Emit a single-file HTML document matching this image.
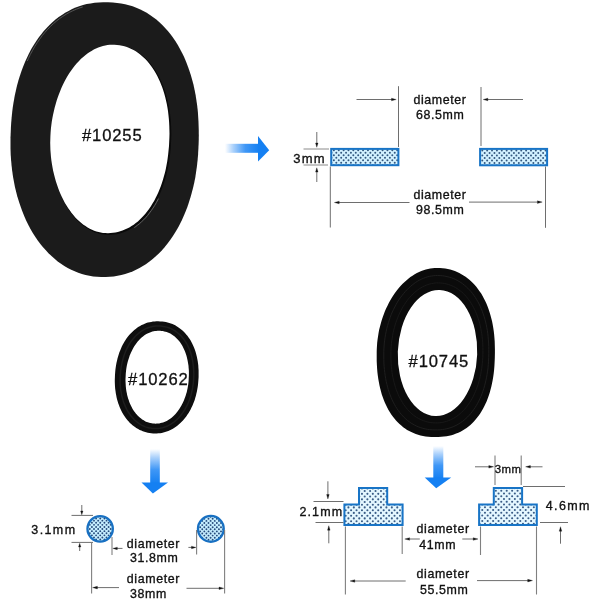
<!DOCTYPE html>
<html>
<head>
<meta charset="utf-8">
<title>Seal dimensions</title>
<style>
html,body{margin:0;padding:0;background:#fff;}
body{width:600px;height:600px;overflow:hidden;font-family:"Liberation Sans",sans-serif;}
svg{display:block;filter:blur(0.35px);}
text{font-family:"Liberation Sans",sans-serif;fill:#111;stroke:#111;stroke-width:0.33px;}
.t{font-size:12.4px;letter-spacing:0.62px;}
.ts{font-size:12.5px;letter-spacing:1.1px;}
.big{font-size:16.6px;letter-spacing:0.85px;stroke-width:0.3px;}
.ln{stroke:#6e6e6e;stroke-width:1;fill:none;}
.lg{stroke:#8a8a8a;stroke-width:1;fill:none;}
.lv{stroke:#808080;stroke-width:1.1;fill:none;}
.ah{fill:#111;stroke:#111;stroke-width:0.3;}
</style>
</head>
<body>
<svg width="600" height="600" viewBox="0 0 600 600">
<defs>
  <linearGradient id="gr" x1="0" y1="0" x2="1" y2="0">
    <stop offset="0" stop-color="#ffffff"/>
    <stop offset="0.25" stop-color="#a9d0fb"/>
    <stop offset="0.6" stop-color="#3f97f6"/>
    <stop offset="1" stop-color="#1580f2"/>
  </linearGradient>
  <linearGradient id="gd" x1="0" y1="0" x2="0" y2="1">
    <stop offset="0" stop-color="#ffffff"/>
    <stop offset="0.25" stop-color="#a9d0fb"/>
    <stop offset="0.6" stop-color="#3f97f6"/>
    <stop offset="1" stop-color="#1580f2"/>
  </linearGradient>
<clipPath id="cr1"><rect x="331.2" y="148.9" width="67.2" height="16.3" /></clipPath>
<clipPath id="cr2"><rect x="480.1" y="148.9" width="67" height="16.4" /></clipPath>
<clipPath id="cc1"><circle cx="100.15" cy="528.85" r="12.7" /></clipPath>
<clipPath id="cc2"><circle cx="210.85" cy="528.85" r="12.9" /></clipPath>
<clipPath id="ct1"><path d="M344.4,504.5 H359 V488 H387.2 V504.5 H402.6 V525.1 H344.4 Z" /></clipPath>
<clipPath id="ct2"><path d="M479.1,504.5 H493.8 V487.9 H522.1 V504.5 H536.8 V525.1 H479.1 Z" /></clipPath>
</defs>

<!-- ============ Ring #10255 ============ -->
<g id="ring1">
  <path fill="#1b1b1b" d="M198.7,141.9 L198.4,148.4 L198.1,154.3 L197.6,160.1 L197.0,165.7 L196.2,171.3 L195.4,176.7 L194.4,182.0 L193.2,187.2 L191.9,192.2 L190.5,197.2 L189.0,202.1 L187.4,206.9 L185.6,211.5 L183.7,216.0 L181.7,220.4 L179.6,224.7 L177.4,228.8 L175.0,232.8 L172.6,236.6 L170.0,240.3 L167.4,243.8 L164.6,247.2 L161.8,250.4 L158.8,253.5 L155.8,256.3 L152.7,259.0 L149.5,261.5 L146.2,263.9 L142.9,266.0 L139.5,268.0 L136.0,269.8 L132.5,271.4 L128.9,272.8 L125.2,274.0 L121.4,275.0 L117.6,275.8 L113.7,276.4 L109.8,276.8 L105.7,277.0 L101.2,277.0 L97.1,276.8 L93.2,276.4 L89.4,275.7 L85.6,274.9 L81.9,273.9 L78.3,272.7 L74.7,271.3 L71.2,269.7 L67.7,267.9 L64.3,265.9 L61.0,263.8 L57.7,261.4 L54.6,258.8 L51.5,256.1 L48.5,253.2 L45.6,250.1 L42.8,246.9 L40.0,243.5 L37.4,239.9 L34.9,236.2 L32.5,232.4 L30.2,228.4 L28.0,224.2 L25.9,219.9 L24.0,215.5 L22.2,211.0 L20.5,206.3 L18.9,201.6 L17.4,196.7 L16.1,191.8 L14.9,186.7 L13.9,181.6 L13.0,176.4 L12.2,171.0 L11.6,165.7 L11.1,160.2 L10.7,154.7 L10.5,149.1 L10.5,143.3 L10.5,137.3 L10.8,130.2 L11.1,123.9 L11.6,117.9 L12.2,112.1 L12.9,106.5 L13.8,101.0 L14.8,95.6 L15.9,90.4 L17.1,85.3 L18.5,80.3 L20.0,75.5 L21.6,70.7 L23.3,66.2 L25.1,61.7 L27.1,57.4 L29.1,53.2 L31.3,49.1 L33.6,45.2 L36.0,41.4 L38.5,37.8 L41.1,34.4 L43.8,31.1 L46.6,28.0 L49.5,25.0 L52.4,22.2 L55.5,19.6 L58.7,17.1 L61.9,14.9 L65.2,12.8 L68.6,10.9 L72.1,9.1 L75.6,7.6 L79.2,6.3 L83.0,5.1 L86.7,4.1 L90.6,3.4 L94.6,2.8 L98.7,2.4 L103.1,2.2 L108.0,2.2 L112.8,2.5 L117.1,2.9 L121.1,3.4 L125.1,4.2 L128.9,5.2 L132.6,6.3 L136.3,7.7 L139.8,9.2 L143.3,10.9 L146.7,12.8 L150.0,14.9 L153.2,17.2 L156.3,19.6 L159.4,22.2 L162.3,25.0 L165.1,27.9 L167.9,31.0 L170.5,34.3 L173.1,37.7 L175.5,41.3 L177.8,45.1 L180.0,48.9 L182.1,53.0 L184.1,57.1 L186.0,61.4 L187.7,65.9 L189.3,70.4 L190.8,75.1 L192.2,79.9 L193.5,84.8 L194.6,89.9 L195.6,95.0 L196.4,100.3 L197.2,105.7 L197.8,111.2 L198.2,116.8 L198.5,122.6 L198.7,128.6 L198.8,134.9 Z"/>
  <path fill="#0a0a0a" d="M171.0,142.8 L170.8,147.2 L170.4,151.2 L170.0,155.2 L169.5,159.0 L168.9,162.8 L168.3,166.5 L167.5,170.1 L166.7,173.7 L165.8,177.2 L164.8,180.6 L163.7,184.0 L162.6,187.3 L161.3,190.5 L160.0,193.6 L158.7,196.6 L157.2,199.5 L155.7,202.3 L154.1,205.1 L152.5,207.7 L150.8,210.2 L149.0,212.6 L147.2,215.0 L145.3,217.1 L143.3,219.2 L141.3,221.2 L139.3,223.0 L137.2,224.7 L135.0,226.3 L132.8,227.8 L130.6,229.1 L128.4,230.3 L126.1,231.3 L123.7,232.2 L121.3,233.0 L118.9,233.7 L116.5,234.2 L114.0,234.5 L111.5,234.8 L108.9,234.9 L106.2,234.8 L104.0,234.6 L101.7,234.3 L99.5,233.8 L97.2,233.1 L95.0,232.4 L92.7,231.4 L90.5,230.4 L88.3,229.1 L86.2,227.8 L84.0,226.3 L81.9,224.7 L79.9,222.9 L77.9,221.0 L75.9,219.0 L74.0,216.8 L72.1,214.5 L70.3,212.2 L68.6,209.7 L66.9,207.0 L65.3,204.3 L63.8,201.5 L62.3,198.6 L61.0,195.6 L59.6,192.5 L58.4,189.4 L57.3,186.2 L56.2,182.9 L55.2,179.5 L54.3,176.1 L53.5,172.6 L52.8,169.1 L52.2,165.6 L51.7,162.0 L51.2,158.4 L50.9,154.8 L50.6,151.1 L50.5,147.5 L50.4,143.9 L50.5,140.4 L50.6,137.0 L50.8,133.4 L51.1,129.7 L51.5,126.1 L52.0,122.4 L52.6,118.8 L53.3,115.2 L54.1,111.6 L55.0,108.1 L55.9,104.6 L57.0,101.2 L58.1,97.9 L59.3,94.5 L60.6,91.3 L61.9,88.1 L63.4,85.1 L64.9,82.0 L66.5,79.1 L68.1,76.3 L69.8,73.6 L71.6,71.0 L73.5,68.4 L75.4,66.0 L77.3,63.8 L79.3,61.6 L81.4,59.5 L83.5,57.6 L85.6,55.8 L87.8,54.1 L90.0,52.6 L92.3,51.2 L94.5,49.9 L96.8,48.8 L99.1,47.8 L101.5,47.0 L103.8,46.3 L106.1,45.7 L108.5,45.3 L110.8,45.1 L113.1,45.0 L115.4,45.0 L118.2,45.2 L120.8,45.6 L123.2,46.0 L125.7,46.6 L128.1,47.4 L130.4,48.2 L132.7,49.3 L134.9,50.4 L137.1,51.7 L139.2,53.1 L141.3,54.6 L143.3,56.3 L145.3,58.1 L147.2,60.0 L149.1,62.0 L150.9,64.1 L152.6,66.4 L154.3,68.8 L155.9,71.2 L157.4,73.8 L158.9,76.5 L160.3,79.3 L161.6,82.1 L162.8,85.1 L164.0,88.2 L165.0,91.3 L166.0,94.5 L166.9,97.8 L167.8,101.2 L168.5,104.6 L169.2,108.1 L169.7,111.7 L170.2,115.3 L170.6,119.0 L170.9,122.8 L171.1,126.6 L171.2,130.5 L171.3,134.4 L171.2,138.5 Z"/>
  <path fill="none" stroke="#5a5a5a" stroke-width="0.9" stroke-dasharray="0 445 80 2000" d="M198.0,142.3 L197.7,148.7 L197.4,154.6 L196.9,160.3 L196.3,165.9 L195.6,171.4 L194.7,176.7 L193.7,182.0 L192.6,187.1 L191.3,192.2 L189.9,197.1 L188.4,202.0 L186.8,206.7 L185.1,211.3 L183.2,215.8 L181.2,220.1 L179.1,224.3 L176.9,228.4 L174.6,232.4 L172.2,236.2 L169.6,239.8 L167.0,243.3 L164.3,246.7 L161.5,249.8 L158.6,252.9 L155.6,255.7 L152.5,258.4 L149.4,260.9 L146.2,263.2 L142.9,265.3 L139.5,267.3 L136.0,269.0 L132.5,270.6 L129.0,272.0 L125.3,273.2 L121.6,274.2 L117.9,275.0 L114.0,275.6 L110.1,276.0 L106.1,276.2 L101.7,276.2 L97.6,276.0 L93.7,275.6 L89.9,275.0 L86.2,274.2 L82.6,273.2 L79.0,272.0 L75.4,270.6 L71.9,269.0 L68.5,267.2 L65.2,265.2 L61.9,263.1 L58.7,260.7 L55.5,258.2 L52.5,255.5 L49.5,252.6 L46.6,249.6 L43.9,246.4 L41.2,243.0 L38.6,239.5 L36.1,235.8 L33.7,232.0 L31.5,228.0 L29.3,223.9 L27.3,219.6 L25.3,215.3 L23.5,210.8 L21.8,206.2 L20.3,201.5 L18.9,196.6 L17.6,191.7 L16.4,186.7 L15.4,181.6 L14.5,176.4 L13.7,171.2 L13.1,165.8 L12.6,160.4 L12.2,154.9 L12.0,149.4 L12.0,143.7 L12.0,137.7 L12.3,130.7 L12.6,124.4 L13.1,118.5 L13.7,112.7 L14.4,107.2 L15.3,101.7 L16.2,96.4 L17.3,91.2 L18.6,86.2 L19.9,81.3 L21.4,76.4 L22.9,71.8 L24.6,67.2 L26.5,62.8 L28.4,58.5 L30.4,54.3 L32.6,50.3 L34.8,46.4 L37.2,42.7 L39.7,39.1 L42.2,35.7 L44.9,32.4 L47.7,29.3 L50.5,26.4 L53.5,23.6 L56.5,21.0 L59.6,18.6 L62.8,16.4 L66.1,14.3 L69.4,12.4 L72.9,10.7 L76.4,9.2 L80.0,7.8 L83.6,6.7 L87.4,5.7 L91.2,5.0 L95.1,4.4 L99.2,4.0 L103.5,3.8 L108.3,3.8 L113.1,4.1 L117.3,4.4 L121.3,5.0 L125.2,5.8 L129.0,6.8 L132.7,7.9 L136.3,9.2 L139.8,10.7 L143.3,12.4 L146.6,14.3 L149.9,16.4 L153.0,18.6 L156.1,21.0 L159.1,23.6 L162.0,26.4 L164.8,29.3 L167.5,32.4 L170.2,35.6 L172.7,39.0 L175.1,42.6 L177.4,46.3 L179.6,50.1 L181.6,54.1 L183.6,58.2 L185.4,62.5 L187.2,66.9 L188.8,71.4 L190.2,76.1 L191.6,80.8 L192.8,85.7 L193.9,90.7 L194.9,95.8 L195.8,101.0 L196.5,106.4 L197.1,111.8 L197.5,117.4 L197.8,123.2 L198.0,129.1 L198.1,135.3 Z"/>
  <path fill="none" stroke="#6a6a6a" stroke-width="0.9" stroke-dasharray="0 58 38 2000" d="M171.8,142.6 L171.6,147.0 L171.2,151.1 L170.8,155.1 L170.3,158.9 L169.7,162.8 L169.0,166.5 L168.3,170.2 L167.4,173.8 L166.5,177.3 L165.5,180.8 L164.4,184.2 L163.2,187.5 L162.0,190.7 L160.7,193.8 L159.3,196.9 L157.8,199.9 L156.3,202.7 L154.7,205.5 L153.0,208.1 L151.2,210.7 L149.4,213.1 L147.6,215.5 L145.7,217.7 L143.7,219.8 L141.6,221.7 L139.6,223.6 L137.4,225.3 L135.3,226.9 L133.0,228.4 L130.8,229.7 L128.5,230.9 L126.1,232.0 L123.8,232.9 L121.4,233.7 L118.9,234.4 L116.4,234.9 L113.9,235.2 L111.3,235.5 L108.7,235.6 L105.9,235.5 L103.7,235.3 L101.4,235.0 L99.1,234.5 L96.8,233.8 L94.5,233.0 L92.3,232.1 L90.0,231.0 L87.8,229.8 L85.6,228.4 L83.4,226.9 L81.3,225.2 L79.2,223.4 L77.2,221.5 L75.2,219.5 L73.2,217.3 L71.3,215.0 L69.5,212.6 L67.7,210.1 L66.0,207.4 L64.4,204.7 L62.8,201.9 L61.4,198.9 L59.9,195.9 L58.6,192.8 L57.4,189.6 L56.2,186.3 L55.1,183.0 L54.1,179.6 L53.2,176.1 L52.4,172.6 L51.7,169.1 L51.0,165.5 L50.5,161.9 L50.1,158.3 L49.7,154.6 L49.4,150.9 L49.3,147.3 L49.2,143.7 L49.3,140.1 L49.4,136.6 L49.6,133.0 L49.9,129.3 L50.3,125.6 L50.9,121.9 L51.5,118.3 L52.2,114.6 L53.0,111.0 L53.8,107.5 L54.8,104.0 L55.9,100.5 L57.0,97.1 L58.2,93.7 L59.5,90.5 L60.9,87.3 L62.4,84.2 L63.9,81.1 L65.5,78.2 L67.2,75.3 L69.0,72.6 L70.8,69.9 L72.6,67.4 L74.6,65.0 L76.6,62.6 L78.6,60.4 L80.7,58.4 L82.8,56.4 L85.0,54.6 L87.2,52.9 L89.4,51.4 L91.7,49.9 L94.0,48.7 L96.4,47.5 L98.7,46.5 L101.1,45.7 L103.4,45.0 L105.8,44.4 L108.2,44.0 L110.6,43.8 L113.0,43.7 L115.3,43.7 L118.1,43.9 L120.7,44.3 L123.2,44.7 L125.7,45.4 L128.1,46.1 L130.5,47.0 L132.8,48.0 L135.1,49.2 L137.3,50.5 L139.5,51.9 L141.6,53.4 L143.7,55.1 L145.7,56.9 L147.6,58.8 L149.5,60.9 L151.3,63.0 L153.1,65.3 L154.8,67.7 L156.4,70.2 L158.0,72.8 L159.5,75.5 L160.9,78.3 L162.2,81.2 L163.5,84.2 L164.6,87.3 L165.7,90.5 L166.7,93.8 L167.7,97.1 L168.5,100.5 L169.3,104.0 L169.9,107.5 L170.5,111.1 L171.0,114.8 L171.4,118.5 L171.7,122.3 L171.9,126.2 L172.0,130.1 L172.1,134.1 L172.0,138.2 Z"/>
  <path fill="#ffffff" d="M169.2,141.8 L169.0,146.1 L168.6,150.1 L168.2,154.0 L167.7,157.9 L167.2,161.6 L166.5,165.3 L165.8,168.9 L165.0,172.5 L164.0,175.9 L163.1,179.3 L162.0,182.7 L160.9,185.9 L159.7,189.1 L158.4,192.2 L157.0,195.2 L155.6,198.1 L154.1,200.9 L152.5,203.6 L150.9,206.2 L149.2,208.7 L147.5,211.1 L145.6,213.4 L143.8,215.6 L141.9,217.6 L139.9,219.6 L137.9,221.4 L135.8,223.1 L133.7,224.7 L131.5,226.1 L129.3,227.4 L127.1,228.6 L124.8,229.6 L122.5,230.6 L120.2,231.3 L117.8,232.0 L115.4,232.5 L113.0,232.8 L110.5,233.1 L107.9,233.2 L105.2,233.1 L103.0,232.9 L100.8,232.6 L98.6,232.1 L96.4,231.5 L94.2,230.7 L92.0,229.8 L89.8,228.7 L87.6,227.5 L85.5,226.1 L83.4,224.7 L81.3,223.0 L79.3,221.3 L77.3,219.4 L75.3,217.4 L73.5,215.3 L71.6,213.0 L69.9,210.6 L68.2,208.2 L66.5,205.6 L64.9,202.9 L63.4,200.1 L62.0,197.2 L60.6,194.2 L59.3,191.2 L58.1,188.0 L57.0,184.8 L55.9,181.6 L55.0,178.2 L54.1,174.8 L53.3,171.4 L52.6,167.9 L52.0,164.4 L51.4,160.8 L51.0,157.3 L50.7,153.7 L50.4,150.1 L50.3,146.5 L50.2,142.9 L50.3,139.4 L50.4,136.0 L50.6,132.4 L50.9,128.8 L51.3,125.2 L51.8,121.6 L52.4,118.0 L53.1,114.4 L53.9,110.9 L54.7,107.4 L55.7,103.9 L56.7,100.5 L57.8,97.2 L59.0,93.9 L60.3,90.7 L61.6,87.5 L63.0,84.5 L64.5,81.5 L66.1,78.6 L67.7,75.8 L69.4,73.1 L71.2,70.5 L73.0,68.0 L74.9,65.6 L76.8,63.3 L78.8,61.2 L80.8,59.1 L82.9,57.2 L85.0,55.4 L87.1,53.8 L89.3,52.2 L91.5,50.9 L93.8,49.6 L96.0,48.5 L98.3,47.5 L100.6,46.7 L102.9,46.0 L105.2,45.4 L107.5,45.0 L109.8,44.8 L112.1,44.7 L114.4,44.7 L117.1,44.9 L119.7,45.2 L122.1,45.7 L124.5,46.3 L126.9,47.0 L129.2,47.9 L131.4,48.9 L133.6,50.1 L135.8,51.3 L137.9,52.7 L139.9,54.2 L141.9,55.9 L143.9,57.7 L145.8,59.5 L147.6,61.6 L149.4,63.7 L151.1,65.9 L152.7,68.3 L154.3,70.7 L155.8,73.3 L157.3,75.9 L158.6,78.7 L159.9,81.6 L161.1,84.5 L162.3,87.5 L163.3,90.6 L164.3,93.8 L165.2,97.1 L166.0,100.4 L166.8,103.9 L167.4,107.3 L168.0,110.9 L168.4,114.5 L168.8,118.2 L169.1,121.9 L169.3,125.7 L169.4,129.5 L169.5,133.5 L169.4,137.5 Z"/>
  <text class="big" x="82" y="140.6">#10255</text>
</g>

<!-- right arrow -->
<g id="arrowR">
  <rect x="225" y="143.8" width="34" height="9" fill="url(#gr)"/>
  <path d="M258,136 L269.2,150.3 L258,161.4 Z" fill="#1580f2"/>
</g>

<!-- ============ Diagram 1 ============ -->
<g id="d1">
<g><rect x="331.2" y="148.9" width="67.2" height="16.3" fill="#d2f1ff" stroke="none"/>
<g clip-path="url(#cr1)" fill="#34587f"><circle cx="331.43" cy="152.70" r="1.0"/><circle cx="331.43" cy="157.75" r="1.0"/><circle cx="331.43" cy="162.80" r="1.0"/><circle cx="336.30" cy="152.70" r="1.0"/><circle cx="336.30" cy="157.75" r="1.0"/><circle cx="336.30" cy="162.80" r="1.0"/><circle cx="341.17" cy="152.70" r="1.0"/><circle cx="341.17" cy="157.75" r="1.0"/><circle cx="341.17" cy="162.80" r="1.0"/><circle cx="346.04" cy="152.70" r="1.0"/><circle cx="346.04" cy="157.75" r="1.0"/><circle cx="346.04" cy="162.80" r="1.0"/><circle cx="350.91" cy="152.70" r="1.0"/><circle cx="350.91" cy="157.75" r="1.0"/><circle cx="350.91" cy="162.80" r="1.0"/><circle cx="355.78" cy="152.70" r="1.0"/><circle cx="355.78" cy="157.75" r="1.0"/><circle cx="355.78" cy="162.80" r="1.0"/><circle cx="360.65" cy="152.70" r="1.0"/><circle cx="360.65" cy="157.75" r="1.0"/><circle cx="360.65" cy="162.80" r="1.0"/><circle cx="365.52" cy="152.70" r="1.0"/><circle cx="365.52" cy="157.75" r="1.0"/><circle cx="365.52" cy="162.80" r="1.0"/><circle cx="370.39" cy="152.70" r="1.0"/><circle cx="370.39" cy="157.75" r="1.0"/><circle cx="370.39" cy="162.80" r="1.0"/><circle cx="375.26" cy="152.70" r="1.0"/><circle cx="375.26" cy="157.75" r="1.0"/><circle cx="375.26" cy="162.80" r="1.0"/><circle cx="380.13" cy="152.70" r="1.0"/><circle cx="380.13" cy="157.75" r="1.0"/><circle cx="380.13" cy="162.80" r="1.0"/><circle cx="385.00" cy="152.70" r="1.0"/><circle cx="385.00" cy="157.75" r="1.0"/><circle cx="385.00" cy="162.80" r="1.0"/><circle cx="389.87" cy="152.70" r="1.0"/><circle cx="389.87" cy="157.75" r="1.0"/><circle cx="389.87" cy="162.80" r="1.0"/><circle cx="394.74" cy="152.70" r="1.0"/><circle cx="394.74" cy="157.75" r="1.0"/><circle cx="394.74" cy="162.80" r="1.0"/><circle cx="333.86" cy="150.17" r="1.0"/><circle cx="333.86" cy="155.22" r="1.0"/><circle cx="333.86" cy="160.27" r="1.0"/><circle cx="333.86" cy="165.32" r="1.0"/><circle cx="338.73" cy="150.17" r="1.0"/><circle cx="338.73" cy="155.22" r="1.0"/><circle cx="338.73" cy="160.27" r="1.0"/><circle cx="338.73" cy="165.32" r="1.0"/><circle cx="343.60" cy="150.17" r="1.0"/><circle cx="343.60" cy="155.22" r="1.0"/><circle cx="343.60" cy="160.27" r="1.0"/><circle cx="343.60" cy="165.32" r="1.0"/><circle cx="348.47" cy="150.17" r="1.0"/><circle cx="348.47" cy="155.22" r="1.0"/><circle cx="348.47" cy="160.27" r="1.0"/><circle cx="348.47" cy="165.32" r="1.0"/><circle cx="353.34" cy="150.17" r="1.0"/><circle cx="353.34" cy="155.22" r="1.0"/><circle cx="353.34" cy="160.27" r="1.0"/><circle cx="353.34" cy="165.32" r="1.0"/><circle cx="358.21" cy="150.17" r="1.0"/><circle cx="358.21" cy="155.22" r="1.0"/><circle cx="358.21" cy="160.27" r="1.0"/><circle cx="358.21" cy="165.32" r="1.0"/><circle cx="363.08" cy="150.17" r="1.0"/><circle cx="363.08" cy="155.22" r="1.0"/><circle cx="363.08" cy="160.27" r="1.0"/><circle cx="363.08" cy="165.32" r="1.0"/><circle cx="367.95" cy="150.17" r="1.0"/><circle cx="367.95" cy="155.22" r="1.0"/><circle cx="367.95" cy="160.27" r="1.0"/><circle cx="367.95" cy="165.32" r="1.0"/><circle cx="372.82" cy="150.17" r="1.0"/><circle cx="372.82" cy="155.22" r="1.0"/><circle cx="372.82" cy="160.27" r="1.0"/><circle cx="372.82" cy="165.32" r="1.0"/><circle cx="377.69" cy="150.17" r="1.0"/><circle cx="377.69" cy="155.22" r="1.0"/><circle cx="377.69" cy="160.27" r="1.0"/><circle cx="377.69" cy="165.32" r="1.0"/><circle cx="382.56" cy="150.17" r="1.0"/><circle cx="382.56" cy="155.22" r="1.0"/><circle cx="382.56" cy="160.27" r="1.0"/><circle cx="382.56" cy="165.32" r="1.0"/><circle cx="387.43" cy="150.17" r="1.0"/><circle cx="387.43" cy="155.22" r="1.0"/><circle cx="387.43" cy="160.27" r="1.0"/><circle cx="387.43" cy="165.32" r="1.0"/><circle cx="392.30" cy="150.17" r="1.0"/><circle cx="392.30" cy="155.22" r="1.0"/><circle cx="392.30" cy="160.27" r="1.0"/><circle cx="392.30" cy="165.32" r="1.0"/><circle cx="397.17" cy="150.17" r="1.0"/><circle cx="397.17" cy="155.22" r="1.0"/><circle cx="397.17" cy="160.27" r="1.0"/><circle cx="397.17" cy="165.32" r="1.0"/></g>
<rect x="331.2" y="148.9" width="67.2" height="16.3" fill="none" stroke="#1874c6" stroke-width="2"/></g>
<g><rect x="480.1" y="148.9" width="67" height="16.4" fill="#d2f1ff" stroke="none"/>
<g clip-path="url(#cr2)" fill="#34587f"><circle cx="479.83" cy="147.95" r="1.0"/><circle cx="479.83" cy="153.00" r="1.0"/><circle cx="479.83" cy="158.05" r="1.0"/><circle cx="479.83" cy="163.10" r="1.0"/><circle cx="484.70" cy="147.95" r="1.0"/><circle cx="484.70" cy="153.00" r="1.0"/><circle cx="484.70" cy="158.05" r="1.0"/><circle cx="484.70" cy="163.10" r="1.0"/><circle cx="489.57" cy="147.95" r="1.0"/><circle cx="489.57" cy="153.00" r="1.0"/><circle cx="489.57" cy="158.05" r="1.0"/><circle cx="489.57" cy="163.10" r="1.0"/><circle cx="494.44" cy="147.95" r="1.0"/><circle cx="494.44" cy="153.00" r="1.0"/><circle cx="494.44" cy="158.05" r="1.0"/><circle cx="494.44" cy="163.10" r="1.0"/><circle cx="499.31" cy="147.95" r="1.0"/><circle cx="499.31" cy="153.00" r="1.0"/><circle cx="499.31" cy="158.05" r="1.0"/><circle cx="499.31" cy="163.10" r="1.0"/><circle cx="504.18" cy="147.95" r="1.0"/><circle cx="504.18" cy="153.00" r="1.0"/><circle cx="504.18" cy="158.05" r="1.0"/><circle cx="504.18" cy="163.10" r="1.0"/><circle cx="509.05" cy="147.95" r="1.0"/><circle cx="509.05" cy="153.00" r="1.0"/><circle cx="509.05" cy="158.05" r="1.0"/><circle cx="509.05" cy="163.10" r="1.0"/><circle cx="513.92" cy="147.95" r="1.0"/><circle cx="513.92" cy="153.00" r="1.0"/><circle cx="513.92" cy="158.05" r="1.0"/><circle cx="513.92" cy="163.10" r="1.0"/><circle cx="518.79" cy="147.95" r="1.0"/><circle cx="518.79" cy="153.00" r="1.0"/><circle cx="518.79" cy="158.05" r="1.0"/><circle cx="518.79" cy="163.10" r="1.0"/><circle cx="523.66" cy="147.95" r="1.0"/><circle cx="523.66" cy="153.00" r="1.0"/><circle cx="523.66" cy="158.05" r="1.0"/><circle cx="523.66" cy="163.10" r="1.0"/><circle cx="528.53" cy="147.95" r="1.0"/><circle cx="528.53" cy="153.00" r="1.0"/><circle cx="528.53" cy="158.05" r="1.0"/><circle cx="528.53" cy="163.10" r="1.0"/><circle cx="533.40" cy="147.95" r="1.0"/><circle cx="533.40" cy="153.00" r="1.0"/><circle cx="533.40" cy="158.05" r="1.0"/><circle cx="533.40" cy="163.10" r="1.0"/><circle cx="538.27" cy="147.95" r="1.0"/><circle cx="538.27" cy="153.00" r="1.0"/><circle cx="538.27" cy="158.05" r="1.0"/><circle cx="538.27" cy="163.10" r="1.0"/><circle cx="543.14" cy="147.95" r="1.0"/><circle cx="543.14" cy="153.00" r="1.0"/><circle cx="543.14" cy="158.05" r="1.0"/><circle cx="543.14" cy="163.10" r="1.0"/><circle cx="548.01" cy="147.95" r="1.0"/><circle cx="548.01" cy="153.00" r="1.0"/><circle cx="548.01" cy="158.05" r="1.0"/><circle cx="548.01" cy="163.10" r="1.0"/><circle cx="482.27" cy="150.47" r="1.0"/><circle cx="482.27" cy="155.52" r="1.0"/><circle cx="482.27" cy="160.57" r="1.0"/><circle cx="482.27" cy="165.62" r="1.0"/><circle cx="487.14" cy="150.47" r="1.0"/><circle cx="487.14" cy="155.52" r="1.0"/><circle cx="487.14" cy="160.57" r="1.0"/><circle cx="487.14" cy="165.62" r="1.0"/><circle cx="492.01" cy="150.47" r="1.0"/><circle cx="492.01" cy="155.52" r="1.0"/><circle cx="492.01" cy="160.57" r="1.0"/><circle cx="492.01" cy="165.62" r="1.0"/><circle cx="496.88" cy="150.47" r="1.0"/><circle cx="496.88" cy="155.52" r="1.0"/><circle cx="496.88" cy="160.57" r="1.0"/><circle cx="496.88" cy="165.62" r="1.0"/><circle cx="501.75" cy="150.47" r="1.0"/><circle cx="501.75" cy="155.52" r="1.0"/><circle cx="501.75" cy="160.57" r="1.0"/><circle cx="501.75" cy="165.62" r="1.0"/><circle cx="506.62" cy="150.47" r="1.0"/><circle cx="506.62" cy="155.52" r="1.0"/><circle cx="506.62" cy="160.57" r="1.0"/><circle cx="506.62" cy="165.62" r="1.0"/><circle cx="511.49" cy="150.47" r="1.0"/><circle cx="511.49" cy="155.52" r="1.0"/><circle cx="511.49" cy="160.57" r="1.0"/><circle cx="511.49" cy="165.62" r="1.0"/><circle cx="516.36" cy="150.47" r="1.0"/><circle cx="516.36" cy="155.52" r="1.0"/><circle cx="516.36" cy="160.57" r="1.0"/><circle cx="516.36" cy="165.62" r="1.0"/><circle cx="521.23" cy="150.47" r="1.0"/><circle cx="521.23" cy="155.52" r="1.0"/><circle cx="521.23" cy="160.57" r="1.0"/><circle cx="521.23" cy="165.62" r="1.0"/><circle cx="526.10" cy="150.47" r="1.0"/><circle cx="526.10" cy="155.52" r="1.0"/><circle cx="526.10" cy="160.57" r="1.0"/><circle cx="526.10" cy="165.62" r="1.0"/><circle cx="530.97" cy="150.47" r="1.0"/><circle cx="530.97" cy="155.52" r="1.0"/><circle cx="530.97" cy="160.57" r="1.0"/><circle cx="530.97" cy="165.62" r="1.0"/><circle cx="535.84" cy="150.47" r="1.0"/><circle cx="535.84" cy="155.52" r="1.0"/><circle cx="535.84" cy="160.57" r="1.0"/><circle cx="535.84" cy="165.62" r="1.0"/><circle cx="540.71" cy="150.47" r="1.0"/><circle cx="540.71" cy="155.52" r="1.0"/><circle cx="540.71" cy="160.57" r="1.0"/><circle cx="540.71" cy="165.62" r="1.0"/><circle cx="545.58" cy="150.47" r="1.0"/><circle cx="545.58" cy="155.52" r="1.0"/><circle cx="545.58" cy="160.57" r="1.0"/><circle cx="545.58" cy="165.62" r="1.0"/></g>
<rect x="480.1" y="148.9" width="67" height="16.4" fill="none" stroke="#1874c6" stroke-width="2"/></g>
  <!-- 3mm -->
  <path class="lg" d="M303.5,149H329 M303.5,165H328"/>
  <path class="ln" d="M316.8,132V144 M316.8,171V182"/>
  <path class="ah" d="M316.8,147.3 l-1.25,-4.3 h2.5z M316.8,167.8 l-1.25,4.3 h2.5z"/>
  <text class="t" x="293.2" y="162.6" style="font-size:13px;letter-spacing:1.3px">3mm</text>
  <!-- top dim -->
  <path class="ln" d="M398.5,86.2V147 M481,87V146"/>
  <path class="ln" d="M356.5,99.5H392 M488,99.5H523"/>
  <path class="ah" d="M396.2,99.5 l-4.7,-1.3 v2.6z M483.2,99.5 l4.7,-1.3 v2.6z"/>
  <text class="t" x="413.4" y="103.9">diameter</text>
  <text class="t" x="416" y="119">68.5mm</text>
  <!-- bottom dim -->
  <path class="ln" d="M330.3,166.5V227.5 M545.5,166.5V227.8"/>
  <path class="ln" d="M339,202.5H409.5 M469,202.1H537.5"/>
  <path class="ah" d="M334.4,202.5 l4.8,-1.3 v2.6z M542.2,202.1 l-4.8,-1.3 v2.6z"/>
  <text class="t" x="413.4" y="199">diameter</text>
  <text class="t" x="416" y="214">98.5mm</text>
</g>

<!-- ============ O-ring #10262 ============ -->
<g id="ring2">
  <path fill="#0e0e0e" d="M198.4,380.0 L198.2,382.4 L198.0,384.7 L197.7,387.0 L197.3,389.2 L196.9,391.4 L196.4,393.6 L195.9,395.7 L195.3,397.8 L194.7,399.9 L193.9,401.9 L193.2,403.8 L192.4,405.8 L191.5,407.6 L190.6,409.5 L189.6,411.2 L188.6,413.0 L187.5,414.6 L186.4,416.2 L185.2,417.8 L184.0,419.3 L182.7,420.7 L181.4,422.0 L180.1,423.3 L178.7,424.5 L177.3,425.7 L175.9,426.8 L174.4,427.8 L172.9,428.7 L171.4,429.5 L169.9,430.3 L168.3,431.0 L166.7,431.6 L165.1,432.1 L163.4,432.5 L161.8,432.9 L160.1,433.2 L158.4,433.3 L156.7,433.4 L155.0,433.5 L153.2,433.4 L151.3,433.2 L149.5,433.0 L147.8,432.7 L146.1,432.3 L144.4,431.8 L142.8,431.3 L141.3,430.6 L139.7,429.9 L138.2,429.1 L136.7,428.3 L135.3,427.3 L133.9,426.3 L132.5,425.2 L131.2,424.1 L129.9,422.9 L128.7,421.6 L127.5,420.2 L126.3,418.8 L125.2,417.3 L124.2,415.8 L123.2,414.2 L122.2,412.5 L121.3,410.8 L120.5,409.0 L119.7,407.2 L119.0,405.3 L118.3,403.4 L117.7,401.4 L117.1,399.4 L116.6,397.4 L116.2,395.3 L115.8,393.2 L115.5,391.0 L115.2,388.9 L115.0,386.6 L114.9,384.4 L114.8,382.1 L114.8,379.7 L114.9,377.3 L115.0,374.8 L115.2,372.1 L115.4,369.7 L115.7,367.4 L116.1,365.1 L116.5,362.8 L117.0,360.7 L117.5,358.5 L118.1,356.4 L118.7,354.4 L119.4,352.3 L120.2,350.4 L121.0,348.5 L121.8,346.6 L122.7,344.8 L123.7,343.0 L124.7,341.3 L125.7,339.7 L126.8,338.1 L128.0,336.6 L129.2,335.1 L130.4,333.7 L131.7,332.4 L133.0,331.2 L134.3,330.0 L135.7,328.9 L137.1,327.8 L138.6,326.8 L140.1,325.9 L141.6,325.1 L143.1,324.4 L144.7,323.7 L146.3,323.1 L147.9,322.6 L149.6,322.2 L151.2,321.9 L152.9,321.6 L154.7,321.4 L156.4,321.3 L158.3,321.3 L160.2,321.4 L162.3,321.6 L164.1,321.8 L165.9,322.1 L167.6,322.5 L169.3,323.0 L170.9,323.5 L172.5,324.1 L174.1,324.8 L175.6,325.6 L177.0,326.5 L178.5,327.4 L179.9,328.4 L181.2,329.4 L182.5,330.6 L183.8,331.8 L185.0,333.0 L186.2,334.4 L187.4,335.8 L188.4,337.2 L189.5,338.7 L190.5,340.3 L191.4,342.0 L192.3,343.7 L193.1,345.4 L193.9,347.2 L194.6,349.1 L195.3,351.0 L195.9,352.9 L196.4,354.9 L196.9,356.9 L197.3,359.0 L197.7,361.1 L198.0,363.3 L198.3,365.5 L198.4,367.7 L198.6,370.0 L198.6,372.4 L198.6,374.8 L198.6,377.3 Z"/>
  <path fill="none" stroke="#1e1e1e" stroke-width="1.5" d="M193.6,379.6 L193.4,381.7 L193.2,383.8 L192.9,385.9 L192.6,387.9 L192.2,389.9 L191.8,391.8 L191.3,393.8 L190.8,395.7 L190.2,397.6 L189.6,399.4 L188.9,401.2 L188.2,403.0 L187.4,404.7 L186.6,406.4 L185.7,408.0 L184.8,409.6 L183.8,411.1 L182.8,412.6 L181.8,414.0 L180.7,415.4 L179.6,416.7 L178.5,418.0 L177.3,419.1 L176.1,420.3 L174.8,421.3 L173.6,422.3 L172.3,423.2 L171.0,424.1 L169.6,424.9 L168.3,425.6 L166.9,426.2 L165.5,426.8 L164.0,427.3 L162.6,427.7 L161.2,428.0 L159.7,428.3 L158.2,428.4 L156.8,428.5 L155.3,428.6 L153.7,428.5 L152.1,428.4 L150.6,428.1 L149.1,427.9 L147.7,427.5 L146.2,427.1 L144.8,426.6 L143.5,426.0 L142.1,425.3 L140.8,424.6 L139.5,423.8 L138.2,423.0 L137.0,422.0 L135.8,421.0 L134.6,420.0 L133.5,418.8 L132.4,417.6 L131.4,416.4 L130.3,415.1 L129.4,413.7 L128.4,412.3 L127.6,410.8 L126.7,409.3 L125.9,407.7 L125.2,406.1 L124.5,404.4 L123.8,402.7 L123.2,400.9 L122.7,399.1 L122.2,397.3 L121.7,395.4 L121.4,393.5 L121.0,391.6 L120.7,389.6 L120.5,387.6 L120.3,385.6 L120.2,383.6 L120.2,381.5 L120.2,379.4 L120.2,377.2 L120.3,375.0 L120.5,372.7 L120.7,370.6 L121.0,368.5 L121.3,366.4 L121.7,364.4 L122.1,362.4 L122.6,360.5 L123.1,358.6 L123.7,356.7 L124.3,354.8 L125.0,353.0 L125.7,351.3 L126.4,349.6 L127.3,347.9 L128.1,346.3 L129.0,344.7 L129.9,343.2 L130.9,341.7 L132.0,340.3 L133.0,339.0 L134.1,337.7 L135.2,336.4 L136.4,335.3 L137.6,334.2 L138.8,333.1 L140.1,332.1 L141.4,331.2 L142.7,330.4 L144.0,329.6 L145.4,328.9 L146.8,328.3 L148.2,327.8 L149.6,327.3 L151.0,326.9 L152.5,326.6 L154.0,326.3 L155.5,326.1 L157.0,326.1 L158.5,326.0 L160.2,326.1 L161.9,326.2 L163.5,326.5 L165.0,326.7 L166.5,327.1 L168.0,327.5 L169.4,328.0 L170.8,328.6 L172.1,329.2 L173.4,329.9 L174.7,330.7 L176.0,331.6 L177.2,332.5 L178.4,333.5 L179.6,334.5 L180.7,335.6 L181.8,336.8 L182.8,338.0 L183.8,339.3 L184.8,340.6 L185.7,342.0 L186.6,343.5 L187.4,345.0 L188.2,346.6 L188.9,348.2 L189.6,349.8 L190.2,351.5 L190.8,353.3 L191.3,355.1 L191.8,356.9 L192.2,358.8 L192.6,360.7 L192.9,362.6 L193.2,364.6 L193.4,366.6 L193.6,368.6 L193.7,370.7 L193.8,372.8 L193.8,375.0 L193.7,377.2 Z"/>
  <path fill="#ffffff" d="M188.7,379.2 L188.6,381.1 L188.4,382.9 L188.2,384.7 L187.9,386.6 L187.6,388.3 L187.2,390.1 L186.8,391.9 L186.3,393.6 L185.8,395.3 L185.2,397.0 L184.6,398.6 L184.0,400.2 L183.3,401.8 L182.6,403.3 L181.8,404.8 L181.0,406.2 L180.2,407.6 L179.3,409.0 L178.4,410.3 L177.5,411.5 L176.5,412.7 L175.5,413.9 L174.5,415.0 L173.5,416.0 L172.4,417.0 L171.3,417.9 L170.2,418.7 L169.0,419.5 L167.9,420.2 L166.7,420.9 L165.5,421.5 L164.3,422.0 L163.1,422.4 L161.8,422.8 L160.6,423.1 L159.3,423.4 L158.1,423.5 L156.8,423.6 L155.6,423.7 L154.3,423.6 L152.9,423.5 L151.7,423.3 L150.4,423.0 L149.2,422.7 L147.9,422.3 L146.7,421.9 L145.5,421.4 L144.4,420.8 L143.3,420.1 L142.1,419.4 L141.1,418.6 L140.0,417.7 L139.0,416.8 L138.0,415.9 L137.0,414.8 L136.0,413.8 L135.1,412.6 L134.3,411.4 L133.4,410.2 L132.6,408.9 L131.9,407.5 L131.1,406.1 L130.5,404.7 L129.8,403.2 L129.2,401.7 L128.7,400.1 L128.1,398.5 L127.7,396.9 L127.2,395.2 L126.9,393.5 L126.5,391.8 L126.2,390.1 L126.0,388.3 L125.8,386.5 L125.7,384.7 L125.6,382.8 L125.5,381.0 L125.5,379.1 L125.6,377.2 L125.7,375.2 L125.8,373.2 L126.0,371.3 L126.2,369.5 L126.5,367.6 L126.8,365.8 L127.2,364.0 L127.6,362.3 L128.1,360.6 L128.6,358.9 L129.2,357.2 L129.7,355.5 L130.4,353.9 L131.0,352.4 L131.8,350.9 L132.5,349.4 L133.3,348.0 L134.1,346.6 L135.0,345.2 L135.9,343.9 L136.8,342.7 L137.7,341.5 L138.7,340.4 L139.8,339.3 L140.8,338.3 L141.9,337.3 L143.0,336.4 L144.1,335.6 L145.2,334.8 L146.4,334.1 L147.5,333.5 L148.7,332.9 L150.0,332.4 L151.2,331.9 L152.4,331.6 L153.7,331.3 L154.9,331.0 L156.2,330.9 L157.5,330.8 L158.8,330.7 L160.1,330.8 L161.6,330.9 L162.9,331.1 L164.2,331.4 L165.5,331.7 L166.7,332.1 L167.9,332.5 L169.1,333.0 L170.3,333.6 L171.4,334.3 L172.5,335.0 L173.6,335.7 L174.7,336.6 L175.7,337.4 L176.7,338.4 L177.7,339.4 L178.6,340.5 L179.5,341.6 L180.4,342.8 L181.2,344.0 L182.0,345.3 L182.7,346.6 L183.4,348.0 L184.1,349.4 L184.7,350.8 L185.3,352.3 L185.9,353.9 L186.4,355.5 L186.8,357.1 L187.2,358.8 L187.6,360.4 L187.9,362.2 L188.2,363.9 L188.5,365.7 L188.6,367.5 L188.8,369.4 L188.9,371.2 L188.9,373.1 L188.9,375.1 L188.8,377.1 Z"/>
  <text class="big" x="128.1" y="385.1">#10262</text>
</g>
<!-- down arrow 1 -->
<g id="arrowD1">
  <rect x="150.2" y="449" width="9.6" height="34.5" fill="url(#gd)"/>
  <path d="M141.5,482.4 H168 L152.9,493.5 Z" fill="#1580f2"/>
</g>

<!-- ============ Diagram 2 ============ -->
<g id="d2">
<g><circle cx="100.15" cy="528.85" r="12.7" fill="#c6eeff" stroke="none"/>
<g clip-path="url(#cc1)" fill="#274a7c"><circle cx="89.83" cy="516.47" r="0.95"/><circle cx="89.83" cy="520.67" r="0.95"/><circle cx="89.83" cy="524.87" r="0.95"/><circle cx="89.83" cy="529.07" r="0.95"/><circle cx="89.83" cy="533.27" r="0.95"/><circle cx="89.83" cy="537.47" r="0.95"/><circle cx="89.83" cy="541.67" r="0.95"/><circle cx="94.00" cy="516.47" r="0.95"/><circle cx="94.00" cy="520.67" r="0.95"/><circle cx="94.00" cy="524.87" r="0.95"/><circle cx="94.00" cy="529.07" r="0.95"/><circle cx="94.00" cy="533.27" r="0.95"/><circle cx="94.00" cy="537.47" r="0.95"/><circle cx="94.00" cy="541.67" r="0.95"/><circle cx="98.17" cy="516.47" r="0.95"/><circle cx="98.17" cy="520.67" r="0.95"/><circle cx="98.17" cy="524.87" r="0.95"/><circle cx="98.17" cy="529.07" r="0.95"/><circle cx="98.17" cy="533.27" r="0.95"/><circle cx="98.17" cy="537.47" r="0.95"/><circle cx="98.17" cy="541.67" r="0.95"/><circle cx="102.34" cy="516.47" r="0.95"/><circle cx="102.34" cy="520.67" r="0.95"/><circle cx="102.34" cy="524.87" r="0.95"/><circle cx="102.34" cy="529.07" r="0.95"/><circle cx="102.34" cy="533.27" r="0.95"/><circle cx="102.34" cy="537.47" r="0.95"/><circle cx="102.34" cy="541.67" r="0.95"/><circle cx="106.51" cy="516.47" r="0.95"/><circle cx="106.51" cy="520.67" r="0.95"/><circle cx="106.51" cy="524.87" r="0.95"/><circle cx="106.51" cy="529.07" r="0.95"/><circle cx="106.51" cy="533.27" r="0.95"/><circle cx="106.51" cy="537.47" r="0.95"/><circle cx="106.51" cy="541.67" r="0.95"/><circle cx="110.68" cy="516.47" r="0.95"/><circle cx="110.68" cy="520.67" r="0.95"/><circle cx="110.68" cy="524.87" r="0.95"/><circle cx="110.68" cy="529.07" r="0.95"/><circle cx="110.68" cy="533.27" r="0.95"/><circle cx="110.68" cy="537.47" r="0.95"/><circle cx="110.68" cy="541.67" r="0.95"/><circle cx="87.74" cy="518.57" r="0.95"/><circle cx="87.74" cy="522.77" r="0.95"/><circle cx="87.74" cy="526.97" r="0.95"/><circle cx="87.74" cy="531.17" r="0.95"/><circle cx="87.74" cy="535.37" r="0.95"/><circle cx="87.74" cy="539.57" r="0.95"/><circle cx="91.91" cy="518.57" r="0.95"/><circle cx="91.91" cy="522.77" r="0.95"/><circle cx="91.91" cy="526.97" r="0.95"/><circle cx="91.91" cy="531.17" r="0.95"/><circle cx="91.91" cy="535.37" r="0.95"/><circle cx="91.91" cy="539.57" r="0.95"/><circle cx="96.08" cy="518.57" r="0.95"/><circle cx="96.08" cy="522.77" r="0.95"/><circle cx="96.08" cy="526.97" r="0.95"/><circle cx="96.08" cy="531.17" r="0.95"/><circle cx="96.08" cy="535.37" r="0.95"/><circle cx="96.08" cy="539.57" r="0.95"/><circle cx="100.25" cy="518.57" r="0.95"/><circle cx="100.25" cy="522.77" r="0.95"/><circle cx="100.25" cy="526.97" r="0.95"/><circle cx="100.25" cy="531.17" r="0.95"/><circle cx="100.25" cy="535.37" r="0.95"/><circle cx="100.25" cy="539.57" r="0.95"/><circle cx="104.42" cy="518.57" r="0.95"/><circle cx="104.42" cy="522.77" r="0.95"/><circle cx="104.42" cy="526.97" r="0.95"/><circle cx="104.42" cy="531.17" r="0.95"/><circle cx="104.42" cy="535.37" r="0.95"/><circle cx="104.42" cy="539.57" r="0.95"/><circle cx="108.59" cy="518.57" r="0.95"/><circle cx="108.59" cy="522.77" r="0.95"/><circle cx="108.59" cy="526.97" r="0.95"/><circle cx="108.59" cy="531.17" r="0.95"/><circle cx="108.59" cy="535.37" r="0.95"/><circle cx="108.59" cy="539.57" r="0.95"/><circle cx="112.76" cy="518.57" r="0.95"/><circle cx="112.76" cy="522.77" r="0.95"/><circle cx="112.76" cy="526.97" r="0.95"/><circle cx="112.76" cy="531.17" r="0.95"/><circle cx="112.76" cy="535.37" r="0.95"/><circle cx="112.76" cy="539.57" r="0.95"/></g>
<circle cx="100.15" cy="528.85" r="12.7" fill="none" stroke="#1870c2" stroke-width="2.3"/></g>
<g><circle cx="210.85" cy="528.85" r="12.9" fill="#c6eeff" stroke="none"/>
<g clip-path="url(#cc2)" fill="#274a7c"><circle cx="200.16" cy="514.60" r="0.95"/><circle cx="200.16" cy="518.80" r="0.95"/><circle cx="200.16" cy="523.00" r="0.95"/><circle cx="200.16" cy="527.20" r="0.95"/><circle cx="200.16" cy="531.40" r="0.95"/><circle cx="200.16" cy="535.60" r="0.95"/><circle cx="200.16" cy="539.80" r="0.95"/><circle cx="204.33" cy="514.60" r="0.95"/><circle cx="204.33" cy="518.80" r="0.95"/><circle cx="204.33" cy="523.00" r="0.95"/><circle cx="204.33" cy="527.20" r="0.95"/><circle cx="204.33" cy="531.40" r="0.95"/><circle cx="204.33" cy="535.60" r="0.95"/><circle cx="204.33" cy="539.80" r="0.95"/><circle cx="208.50" cy="514.60" r="0.95"/><circle cx="208.50" cy="518.80" r="0.95"/><circle cx="208.50" cy="523.00" r="0.95"/><circle cx="208.50" cy="527.20" r="0.95"/><circle cx="208.50" cy="531.40" r="0.95"/><circle cx="208.50" cy="535.60" r="0.95"/><circle cx="208.50" cy="539.80" r="0.95"/><circle cx="212.67" cy="514.60" r="0.95"/><circle cx="212.67" cy="518.80" r="0.95"/><circle cx="212.67" cy="523.00" r="0.95"/><circle cx="212.67" cy="527.20" r="0.95"/><circle cx="212.67" cy="531.40" r="0.95"/><circle cx="212.67" cy="535.60" r="0.95"/><circle cx="212.67" cy="539.80" r="0.95"/><circle cx="216.84" cy="514.60" r="0.95"/><circle cx="216.84" cy="518.80" r="0.95"/><circle cx="216.84" cy="523.00" r="0.95"/><circle cx="216.84" cy="527.20" r="0.95"/><circle cx="216.84" cy="531.40" r="0.95"/><circle cx="216.84" cy="535.60" r="0.95"/><circle cx="216.84" cy="539.80" r="0.95"/><circle cx="221.01" cy="514.60" r="0.95"/><circle cx="221.01" cy="518.80" r="0.95"/><circle cx="221.01" cy="523.00" r="0.95"/><circle cx="221.01" cy="527.20" r="0.95"/><circle cx="221.01" cy="531.40" r="0.95"/><circle cx="221.01" cy="535.60" r="0.95"/><circle cx="221.01" cy="539.80" r="0.95"/><circle cx="198.08" cy="516.70" r="0.95"/><circle cx="198.08" cy="520.90" r="0.95"/><circle cx="198.08" cy="525.10" r="0.95"/><circle cx="198.08" cy="529.30" r="0.95"/><circle cx="198.08" cy="533.50" r="0.95"/><circle cx="198.08" cy="537.70" r="0.95"/><circle cx="198.08" cy="541.90" r="0.95"/><circle cx="202.25" cy="516.70" r="0.95"/><circle cx="202.25" cy="520.90" r="0.95"/><circle cx="202.25" cy="525.10" r="0.95"/><circle cx="202.25" cy="529.30" r="0.95"/><circle cx="202.25" cy="533.50" r="0.95"/><circle cx="202.25" cy="537.70" r="0.95"/><circle cx="202.25" cy="541.90" r="0.95"/><circle cx="206.42" cy="516.70" r="0.95"/><circle cx="206.42" cy="520.90" r="0.95"/><circle cx="206.42" cy="525.10" r="0.95"/><circle cx="206.42" cy="529.30" r="0.95"/><circle cx="206.42" cy="533.50" r="0.95"/><circle cx="206.42" cy="537.70" r="0.95"/><circle cx="206.42" cy="541.90" r="0.95"/><circle cx="210.59" cy="516.70" r="0.95"/><circle cx="210.59" cy="520.90" r="0.95"/><circle cx="210.59" cy="525.10" r="0.95"/><circle cx="210.59" cy="529.30" r="0.95"/><circle cx="210.59" cy="533.50" r="0.95"/><circle cx="210.59" cy="537.70" r="0.95"/><circle cx="210.59" cy="541.90" r="0.95"/><circle cx="214.76" cy="516.70" r="0.95"/><circle cx="214.76" cy="520.90" r="0.95"/><circle cx="214.76" cy="525.10" r="0.95"/><circle cx="214.76" cy="529.30" r="0.95"/><circle cx="214.76" cy="533.50" r="0.95"/><circle cx="214.76" cy="537.70" r="0.95"/><circle cx="214.76" cy="541.90" r="0.95"/><circle cx="218.93" cy="516.70" r="0.95"/><circle cx="218.93" cy="520.90" r="0.95"/><circle cx="218.93" cy="525.10" r="0.95"/><circle cx="218.93" cy="529.30" r="0.95"/><circle cx="218.93" cy="533.50" r="0.95"/><circle cx="218.93" cy="537.70" r="0.95"/><circle cx="218.93" cy="541.90" r="0.95"/><circle cx="223.10" cy="516.70" r="0.95"/><circle cx="223.10" cy="520.90" r="0.95"/><circle cx="223.10" cy="525.10" r="0.95"/><circle cx="223.10" cy="529.30" r="0.95"/><circle cx="223.10" cy="533.50" r="0.95"/><circle cx="223.10" cy="537.70" r="0.95"/><circle cx="223.10" cy="541.90" r="0.95"/></g>
<circle cx="210.85" cy="528.85" r="12.9" fill="none" stroke="#1870c2" stroke-width="2.3"/></g>
  <!-- 3.1mm -->
  <path class="ln" d="M71.5,515.4H93 M71.5,542.4H93"/>
  <path class="ln" d="M81.8,505V512 M79.7,546V551"/>
  <path class="ah" d="M81.8,514.8 l-1.2,-3.8 h2.4z M79.7,543.2 l-1.2,3.8 h2.4z"/>
  <text class="ts" x="31.3" y="534.3" style="letter-spacing:1.4px">3.1mm</text>
  <!-- inner dim -->
  <path class="lv" d="M112,537V555 M196.6,530V554.5"/>
  <path class="ln" d="M117,548.4H122.5 M188.4,547.4H192"/>
  <path class="ah" d="M112.8,548.4 l4.5,-1.25 v2.5z M196,547.4 l-4.5,-1.25 v2.5z"/>
  <text class="t" x="126.8" y="547.7">diameter</text>
  <text class="t" x="130" y="562.4">31.8mm</text>
  <!-- outer dim -->
  <path class="lv" d="M91.6,542.5V593.5 M224.6,530V593.5"/>
  <path class="ln" d="M97,587.6H119 M186.5,588.3H219"/>
  <path class="ah" d="M92.6,587.6 l4.8,-1.3 v2.6z M223.8,588.3 l-4.8,-1.3 v2.6z"/>
  <text class="t" x="126.8" y="583.4">diameter</text>
  <text class="t" x="130" y="598">38mm</text>
</g>

<!-- ============ Ring #10745 ============ -->
<g id="ring3">
  <path fill="#0b0b0b" d="M494.9,353.2 L494.8,358.3 L494.6,362.5 L494.4,366.3 L494.1,370.1 L493.7,373.6 L493.2,377.1 L492.6,380.4 L492.0,383.6 L491.3,386.8 L490.5,389.8 L489.7,392.8 L488.7,395.7 L487.7,398.5 L486.7,401.2 L485.5,403.8 L484.3,406.3 L483.0,408.8 L481.7,411.1 L480.2,413.4 L478.8,415.5 L477.2,417.6 L475.6,419.6 L473.9,421.5 L472.2,423.2 L470.4,424.9 L468.5,426.5 L466.6,427.9 L464.6,429.3 L462.6,430.5 L460.5,431.7 L458.3,432.7 L456.1,433.6 L453.8,434.5 L451.5,435.2 L449.1,435.8 L446.6,436.2 L444.0,436.6 L441.2,436.8 L438.3,437.0 L434.8,437.0 L431.2,436.9 L428.3,436.7 L425.6,436.4 L423.0,435.9 L420.5,435.4 L418.1,434.8 L415.8,434.0 L413.5,433.1 L411.3,432.1 L409.2,431.1 L407.1,429.9 L405.1,428.6 L403.2,427.2 L401.3,425.6 L399.5,424.0 L397.7,422.3 L396.0,420.5 L394.4,418.6 L392.8,416.6 L391.3,414.5 L389.9,412.3 L388.5,410.0 L387.2,407.6 L386.0,405.1 L384.8,402.6 L383.8,399.9 L382.8,397.2 L381.8,394.4 L381.0,391.5 L380.2,388.5 L379.5,385.4 L378.9,382.2 L378.3,379.0 L377.8,375.6 L377.4,372.2 L377.1,368.6 L376.9,364.9 L376.7,361.0 L376.7,356.8 L376.7,351.8 L376.8,348.7 L377.0,345.6 L377.2,342.4 L377.6,339.2 L378.1,336.0 L378.6,332.8 L379.2,329.6 L380.0,326.5 L380.8,323.4 L381.7,320.3 L382.7,317.3 L383.8,314.3 L384.9,311.3 L386.1,308.5 L387.5,305.7 L388.8,302.9 L390.3,300.3 L391.8,297.7 L393.4,295.2 L395.1,292.8 L396.8,290.5 L398.6,288.2 L400.5,286.1 L402.4,284.1 L404.3,282.2 L406.3,280.4 L408.3,278.7 L410.4,277.1 L412.5,275.7 L414.7,274.3 L416.9,273.1 L419.1,272.0 L421.3,271.1 L423.5,270.2 L425.8,269.5 L428.0,269.0 L430.3,268.5 L432.5,268.2 L434.7,268.0 L436.8,268.0 L439.9,268.1 L442.7,268.3 L445.3,268.6 L447.8,269.1 L450.2,269.6 L452.6,270.3 L454.9,271.1 L457.1,272.0 L459.3,273.0 L461.4,274.2 L463.5,275.4 L465.6,276.8 L467.5,278.2 L469.4,279.8 L471.3,281.5 L473.1,283.3 L474.8,285.1 L476.5,287.1 L478.1,289.2 L479.7,291.4 L481.2,293.6 L482.6,296.0 L483.9,298.4 L485.2,301.0 L486.4,303.6 L487.5,306.3 L488.5,309.1 L489.5,311.9 L490.4,314.9 L491.2,317.9 L492.0,321.0 L492.6,324.1 L493.2,327.4 L493.7,330.7 L494.1,334.1 L494.4,337.6 L494.7,341.2 L494.8,344.9 L494.9,348.8 Z"/>
  <path fill="none" stroke="#1e1e1e" stroke-width="1" d="M488.8,353.6 L488.7,357.7 L488.5,361.2 L488.3,364.6 L488.0,367.9 L487.6,371.1 L487.1,374.2 L486.6,377.2 L486.0,380.1 L485.3,383.0 L484.6,385.8 L483.8,388.5 L482.9,391.2 L482.0,393.8 L481.0,396.3 L479.9,398.7 L478.8,401.1 L477.6,403.4 L476.3,405.6 L475.0,407.7 L473.6,409.7 L472.2,411.6 L470.7,413.5 L469.2,415.3 L467.6,416.9 L465.9,418.5 L464.2,420.0 L462.5,421.4 L460.7,422.6 L458.9,423.8 L457.0,424.9 L455.0,425.9 L453.1,426.8 L451.0,427.5 L449.0,428.2 L446.9,428.7 L444.7,429.2 L442.5,429.5 L440.1,429.8 L437.7,429.9 L435.0,429.9 L432.1,429.8 L429.7,429.6 L427.3,429.3 L425.1,428.9 L422.9,428.3 L420.8,427.7 L418.8,427.0 L416.8,426.2 L414.8,425.2 L413.0,424.2 L411.1,423.1 L409.3,421.8 L407.6,420.5 L405.9,419.1 L404.2,417.5 L402.7,415.9 L401.1,414.2 L399.7,412.4 L398.3,410.5 L396.9,408.5 L395.6,406.5 L394.4,404.3 L393.2,402.1 L392.1,399.8 L391.1,397.4 L390.1,394.9 L389.2,392.4 L388.3,389.8 L387.6,387.1 L386.9,384.3 L386.2,381.5 L385.7,378.6 L385.2,375.7 L384.8,372.6 L384.4,369.5 L384.1,366.3 L383.9,363.0 L383.8,359.6 L383.8,356.0 L383.8,351.8 L383.9,348.9 L384.1,346.0 L384.3,343.0 L384.7,340.1 L385.1,337.1 L385.6,334.2 L386.2,331.3 L386.8,328.4 L387.6,325.6 L388.4,322.7 L389.3,320.0 L390.2,317.3 L391.2,314.6 L392.3,312.0 L393.5,309.4 L394.8,307.0 L396.1,304.5 L397.4,302.2 L398.8,299.9 L400.3,297.8 L401.9,295.7 L403.5,293.7 L405.1,291.7 L406.8,289.9 L408.5,288.2 L410.3,286.6 L412.1,285.1 L414.0,283.6 L415.8,282.3 L417.7,281.1 L419.7,280.0 L421.6,279.1 L423.6,278.2 L425.6,277.5 L427.6,276.8 L429.6,276.3 L431.7,276.0 L433.7,275.7 L435.7,275.5 L437.6,275.5 L440.2,275.6 L442.6,275.8 L444.8,276.1 L447.0,276.6 L449.1,277.1 L451.2,277.7 L453.2,278.5 L455.2,279.3 L457.1,280.3 L459.0,281.4 L460.9,282.5 L462.7,283.8 L464.4,285.2 L466.2,286.7 L467.8,288.2 L469.4,289.9 L471.0,291.6 L472.5,293.5 L473.9,295.4 L475.3,297.4 L476.6,299.6 L477.9,301.7 L479.1,304.0 L480.2,306.4 L481.3,308.8 L482.3,311.3 L483.2,313.9 L484.1,316.5 L484.9,319.2 L485.6,322.0 L486.3,324.8 L486.8,327.7 L487.4,330.6 L487.8,333.6 L488.1,336.7 L488.4,339.9 L488.6,343.1 L488.8,346.4 L488.8,349.8 Z"/>
  <path fill="none" stroke="#1a1a1a" stroke-width="0.9" d="M482.9,354.1 L482.8,357.3 L482.6,360.3 L482.3,363.2 L482.0,366.0 L481.7,368.8 L481.2,371.6 L480.7,374.3 L480.1,376.9 L479.5,379.5 L478.8,382.0 L478.1,384.5 L477.2,387.0 L476.4,389.3 L475.4,391.6 L474.4,393.9 L473.4,396.1 L472.3,398.2 L471.1,400.2 L469.9,402.2 L468.6,404.1 L467.3,405.9 L466.0,407.6 L464.6,409.3 L463.1,410.8 L461.6,412.3 L460.1,413.7 L458.5,415.0 L456.9,416.2 L455.3,417.3 L453.6,418.3 L451.9,419.2 L450.2,420.0 L448.4,420.7 L446.6,421.3 L444.8,421.8 L442.9,422.3 L441.1,422.6 L439.1,422.8 L437.2,422.9 L435.1,422.9 L432.9,422.8 L430.9,422.6 L429.0,422.3 L427.1,421.9 L425.3,421.3 L423.5,420.7 L421.7,420.0 L420.0,419.2 L418.3,418.3 L416.6,417.4 L415.0,416.3 L413.4,415.1 L411.9,413.8 L410.4,412.5 L408.9,411.0 L407.5,409.5 L406.2,407.8 L404.9,406.1 L403.6,404.4 L402.4,402.5 L401.3,400.6 L400.2,398.5 L399.1,396.5 L398.1,394.3 L397.2,392.1 L396.3,389.8 L395.5,387.4 L394.8,385.0 L394.1,382.6 L393.5,380.1 L392.9,377.5 L392.4,374.9 L392.0,372.2 L391.7,369.5 L391.4,366.7 L391.1,363.9 L391.0,361.0 L390.9,358.0 L390.9,355.0 L390.9,351.7 L391.0,348.9 L391.2,346.2 L391.4,343.5 L391.8,340.8 L392.2,338.1 L392.6,335.4 L393.1,332.7 L393.7,330.1 L394.4,327.6 L395.1,325.0 L395.9,322.5 L396.8,320.1 L397.7,317.7 L398.6,315.3 L399.7,313.0 L400.8,310.8 L401.9,308.6 L403.1,306.5 L404.4,304.5 L405.7,302.6 L407.0,300.7 L408.4,298.9 L409.9,297.2 L411.4,295.6 L412.9,294.0 L414.4,292.6 L416.0,291.3 L417.7,290.0 L419.3,288.8 L421.0,287.8 L422.7,286.8 L424.4,286.0 L426.2,285.2 L427.9,284.6 L429.7,284.0 L431.5,283.6 L433.3,283.3 L435.1,283.0 L436.9,282.9 L438.7,282.9 L440.8,283.0 L442.8,283.2 L444.7,283.5 L446.6,284.0 L448.4,284.5 L450.2,285.1 L451.9,285.8 L453.7,286.6 L455.4,287.5 L457.0,288.5 L458.6,289.6 L460.2,290.8 L461.8,292.1 L463.3,293.4 L464.7,294.9 L466.1,296.4 L467.5,298.1 L468.8,299.8 L470.1,301.6 L471.3,303.5 L472.4,305.4 L473.5,307.4 L474.6,309.5 L475.6,311.7 L476.5,313.9 L477.4,316.2 L478.2,318.6 L479.0,321.0 L479.7,323.5 L480.3,326.0 L480.8,328.6 L481.3,331.2 L481.8,333.8 L482.1,336.6 L482.4,339.3 L482.7,342.1 L482.8,345.0 L482.9,347.9 L482.9,350.9 Z"/>
  <ellipse cx="437.5" cy="353" rx="39.7" ry="63" fill="#ffffff" transform="rotate(2 437.5 353)"/>
  <text class="big" x="408.6" y="366.5">#10745</text>
</g>
<!-- down arrow 2 -->
<g id="arrowD2">
  <rect x="433.3" y="446" width="10" height="32.5" fill="url(#gd)"/>
  <path d="M424.7,477.4 H451.2 L436.2,488.2 Z" fill="#1580f2"/>
</g>

<!-- ============ Diagram 3 ============ -->
<g id="d3">
<g><path d="M344.4,504.5 H359 V488 H387.2 V504.5 H402.6 V525.1 H344.4 Z" fill="#e4f7ff" stroke="none"/>
<g clip-path="url(#ct1)" fill="#3a5c86"><circle cx="348.40" cy="490.98" r="1.05"/><circle cx="348.40" cy="496.46" r="1.05"/><circle cx="348.40" cy="501.94" r="1.05"/><circle cx="348.40" cy="507.42" r="1.05"/><circle cx="348.40" cy="512.90" r="1.05"/><circle cx="348.40" cy="518.38" r="1.05"/><circle cx="348.40" cy="523.86" r="1.05"/><circle cx="353.83" cy="490.98" r="1.05"/><circle cx="353.83" cy="496.46" r="1.05"/><circle cx="353.83" cy="501.94" r="1.05"/><circle cx="353.83" cy="507.42" r="1.05"/><circle cx="353.83" cy="512.90" r="1.05"/><circle cx="353.83" cy="518.38" r="1.05"/><circle cx="353.83" cy="523.86" r="1.05"/><circle cx="359.26" cy="490.98" r="1.05"/><circle cx="359.26" cy="496.46" r="1.05"/><circle cx="359.26" cy="501.94" r="1.05"/><circle cx="359.26" cy="507.42" r="1.05"/><circle cx="359.26" cy="512.90" r="1.05"/><circle cx="359.26" cy="518.38" r="1.05"/><circle cx="359.26" cy="523.86" r="1.05"/><circle cx="364.69" cy="490.98" r="1.05"/><circle cx="364.69" cy="496.46" r="1.05"/><circle cx="364.69" cy="501.94" r="1.05"/><circle cx="364.69" cy="507.42" r="1.05"/><circle cx="364.69" cy="512.90" r="1.05"/><circle cx="364.69" cy="518.38" r="1.05"/><circle cx="364.69" cy="523.86" r="1.05"/><circle cx="370.12" cy="490.98" r="1.05"/><circle cx="370.12" cy="496.46" r="1.05"/><circle cx="370.12" cy="501.94" r="1.05"/><circle cx="370.12" cy="507.42" r="1.05"/><circle cx="370.12" cy="512.90" r="1.05"/><circle cx="370.12" cy="518.38" r="1.05"/><circle cx="370.12" cy="523.86" r="1.05"/><circle cx="375.55" cy="490.98" r="1.05"/><circle cx="375.55" cy="496.46" r="1.05"/><circle cx="375.55" cy="501.94" r="1.05"/><circle cx="375.55" cy="507.42" r="1.05"/><circle cx="375.55" cy="512.90" r="1.05"/><circle cx="375.55" cy="518.38" r="1.05"/><circle cx="375.55" cy="523.86" r="1.05"/><circle cx="380.98" cy="490.98" r="1.05"/><circle cx="380.98" cy="496.46" r="1.05"/><circle cx="380.98" cy="501.94" r="1.05"/><circle cx="380.98" cy="507.42" r="1.05"/><circle cx="380.98" cy="512.90" r="1.05"/><circle cx="380.98" cy="518.38" r="1.05"/><circle cx="380.98" cy="523.86" r="1.05"/><circle cx="386.41" cy="490.98" r="1.05"/><circle cx="386.41" cy="496.46" r="1.05"/><circle cx="386.41" cy="501.94" r="1.05"/><circle cx="386.41" cy="507.42" r="1.05"/><circle cx="386.41" cy="512.90" r="1.05"/><circle cx="386.41" cy="518.38" r="1.05"/><circle cx="386.41" cy="523.86" r="1.05"/><circle cx="391.84" cy="490.98" r="1.05"/><circle cx="391.84" cy="496.46" r="1.05"/><circle cx="391.84" cy="501.94" r="1.05"/><circle cx="391.84" cy="507.42" r="1.05"/><circle cx="391.84" cy="512.90" r="1.05"/><circle cx="391.84" cy="518.38" r="1.05"/><circle cx="391.84" cy="523.86" r="1.05"/><circle cx="397.27" cy="490.98" r="1.05"/><circle cx="397.27" cy="496.46" r="1.05"/><circle cx="397.27" cy="501.94" r="1.05"/><circle cx="397.27" cy="507.42" r="1.05"/><circle cx="397.27" cy="512.90" r="1.05"/><circle cx="397.27" cy="518.38" r="1.05"/><circle cx="397.27" cy="523.86" r="1.05"/><circle cx="402.70" cy="490.98" r="1.05"/><circle cx="402.70" cy="496.46" r="1.05"/><circle cx="402.70" cy="501.94" r="1.05"/><circle cx="402.70" cy="507.42" r="1.05"/><circle cx="402.70" cy="512.90" r="1.05"/><circle cx="402.70" cy="518.38" r="1.05"/><circle cx="402.70" cy="523.86" r="1.05"/><circle cx="345.67" cy="488.38" r="1.05"/><circle cx="345.67" cy="493.86" r="1.05"/><circle cx="345.67" cy="499.34" r="1.05"/><circle cx="345.67" cy="504.82" r="1.05"/><circle cx="345.67" cy="510.30" r="1.05"/><circle cx="345.67" cy="515.78" r="1.05"/><circle cx="345.67" cy="521.26" r="1.05"/><circle cx="351.10" cy="488.38" r="1.05"/><circle cx="351.10" cy="493.86" r="1.05"/><circle cx="351.10" cy="499.34" r="1.05"/><circle cx="351.10" cy="504.82" r="1.05"/><circle cx="351.10" cy="510.30" r="1.05"/><circle cx="351.10" cy="515.78" r="1.05"/><circle cx="351.10" cy="521.26" r="1.05"/><circle cx="356.53" cy="488.38" r="1.05"/><circle cx="356.53" cy="493.86" r="1.05"/><circle cx="356.53" cy="499.34" r="1.05"/><circle cx="356.53" cy="504.82" r="1.05"/><circle cx="356.53" cy="510.30" r="1.05"/><circle cx="356.53" cy="515.78" r="1.05"/><circle cx="356.53" cy="521.26" r="1.05"/><circle cx="361.96" cy="488.38" r="1.05"/><circle cx="361.96" cy="493.86" r="1.05"/><circle cx="361.96" cy="499.34" r="1.05"/><circle cx="361.96" cy="504.82" r="1.05"/><circle cx="361.96" cy="510.30" r="1.05"/><circle cx="361.96" cy="515.78" r="1.05"/><circle cx="361.96" cy="521.26" r="1.05"/><circle cx="367.39" cy="488.38" r="1.05"/><circle cx="367.39" cy="493.86" r="1.05"/><circle cx="367.39" cy="499.34" r="1.05"/><circle cx="367.39" cy="504.82" r="1.05"/><circle cx="367.39" cy="510.30" r="1.05"/><circle cx="367.39" cy="515.78" r="1.05"/><circle cx="367.39" cy="521.26" r="1.05"/><circle cx="372.82" cy="488.38" r="1.05"/><circle cx="372.82" cy="493.86" r="1.05"/><circle cx="372.82" cy="499.34" r="1.05"/><circle cx="372.82" cy="504.82" r="1.05"/><circle cx="372.82" cy="510.30" r="1.05"/><circle cx="372.82" cy="515.78" r="1.05"/><circle cx="372.82" cy="521.26" r="1.05"/><circle cx="378.25" cy="488.38" r="1.05"/><circle cx="378.25" cy="493.86" r="1.05"/><circle cx="378.25" cy="499.34" r="1.05"/><circle cx="378.25" cy="504.82" r="1.05"/><circle cx="378.25" cy="510.30" r="1.05"/><circle cx="378.25" cy="515.78" r="1.05"/><circle cx="378.25" cy="521.26" r="1.05"/><circle cx="383.68" cy="488.38" r="1.05"/><circle cx="383.68" cy="493.86" r="1.05"/><circle cx="383.68" cy="499.34" r="1.05"/><circle cx="383.68" cy="504.82" r="1.05"/><circle cx="383.68" cy="510.30" r="1.05"/><circle cx="383.68" cy="515.78" r="1.05"/><circle cx="383.68" cy="521.26" r="1.05"/><circle cx="389.11" cy="488.38" r="1.05"/><circle cx="389.11" cy="493.86" r="1.05"/><circle cx="389.11" cy="499.34" r="1.05"/><circle cx="389.11" cy="504.82" r="1.05"/><circle cx="389.11" cy="510.30" r="1.05"/><circle cx="389.11" cy="515.78" r="1.05"/><circle cx="389.11" cy="521.26" r="1.05"/><circle cx="394.54" cy="488.38" r="1.05"/><circle cx="394.54" cy="493.86" r="1.05"/><circle cx="394.54" cy="499.34" r="1.05"/><circle cx="394.54" cy="504.82" r="1.05"/><circle cx="394.54" cy="510.30" r="1.05"/><circle cx="394.54" cy="515.78" r="1.05"/><circle cx="394.54" cy="521.26" r="1.05"/><circle cx="399.97" cy="488.38" r="1.05"/><circle cx="399.97" cy="493.86" r="1.05"/><circle cx="399.97" cy="499.34" r="1.05"/><circle cx="399.97" cy="504.82" r="1.05"/><circle cx="399.97" cy="510.30" r="1.05"/><circle cx="399.97" cy="515.78" r="1.05"/><circle cx="399.97" cy="521.26" r="1.05"/></g>
<path d="M344.4,504.5 H359 V488 H387.2 V504.5 H402.6 V525.1 H344.4 Z" fill="none" stroke="#1874c6" stroke-width="2"/></g>
<g><path d="M479.1,504.5 H493.8 V487.9 H522.1 V504.5 H536.8 V525.1 H479.1 Z" fill="#e4f7ff" stroke="none"/>
<g clip-path="url(#ct2)" fill="#3a5c86"><circle cx="482.27" cy="488.08" r="1.05"/><circle cx="482.27" cy="493.56" r="1.05"/><circle cx="482.27" cy="499.04" r="1.05"/><circle cx="482.27" cy="504.52" r="1.05"/><circle cx="482.27" cy="510.00" r="1.05"/><circle cx="482.27" cy="515.48" r="1.05"/><circle cx="482.27" cy="520.96" r="1.05"/><circle cx="487.70" cy="488.08" r="1.05"/><circle cx="487.70" cy="493.56" r="1.05"/><circle cx="487.70" cy="499.04" r="1.05"/><circle cx="487.70" cy="504.52" r="1.05"/><circle cx="487.70" cy="510.00" r="1.05"/><circle cx="487.70" cy="515.48" r="1.05"/><circle cx="487.70" cy="520.96" r="1.05"/><circle cx="493.13" cy="488.08" r="1.05"/><circle cx="493.13" cy="493.56" r="1.05"/><circle cx="493.13" cy="499.04" r="1.05"/><circle cx="493.13" cy="504.52" r="1.05"/><circle cx="493.13" cy="510.00" r="1.05"/><circle cx="493.13" cy="515.48" r="1.05"/><circle cx="493.13" cy="520.96" r="1.05"/><circle cx="498.56" cy="488.08" r="1.05"/><circle cx="498.56" cy="493.56" r="1.05"/><circle cx="498.56" cy="499.04" r="1.05"/><circle cx="498.56" cy="504.52" r="1.05"/><circle cx="498.56" cy="510.00" r="1.05"/><circle cx="498.56" cy="515.48" r="1.05"/><circle cx="498.56" cy="520.96" r="1.05"/><circle cx="503.99" cy="488.08" r="1.05"/><circle cx="503.99" cy="493.56" r="1.05"/><circle cx="503.99" cy="499.04" r="1.05"/><circle cx="503.99" cy="504.52" r="1.05"/><circle cx="503.99" cy="510.00" r="1.05"/><circle cx="503.99" cy="515.48" r="1.05"/><circle cx="503.99" cy="520.96" r="1.05"/><circle cx="509.42" cy="488.08" r="1.05"/><circle cx="509.42" cy="493.56" r="1.05"/><circle cx="509.42" cy="499.04" r="1.05"/><circle cx="509.42" cy="504.52" r="1.05"/><circle cx="509.42" cy="510.00" r="1.05"/><circle cx="509.42" cy="515.48" r="1.05"/><circle cx="509.42" cy="520.96" r="1.05"/><circle cx="514.85" cy="488.08" r="1.05"/><circle cx="514.85" cy="493.56" r="1.05"/><circle cx="514.85" cy="499.04" r="1.05"/><circle cx="514.85" cy="504.52" r="1.05"/><circle cx="514.85" cy="510.00" r="1.05"/><circle cx="514.85" cy="515.48" r="1.05"/><circle cx="514.85" cy="520.96" r="1.05"/><circle cx="520.28" cy="488.08" r="1.05"/><circle cx="520.28" cy="493.56" r="1.05"/><circle cx="520.28" cy="499.04" r="1.05"/><circle cx="520.28" cy="504.52" r="1.05"/><circle cx="520.28" cy="510.00" r="1.05"/><circle cx="520.28" cy="515.48" r="1.05"/><circle cx="520.28" cy="520.96" r="1.05"/><circle cx="525.71" cy="488.08" r="1.05"/><circle cx="525.71" cy="493.56" r="1.05"/><circle cx="525.71" cy="499.04" r="1.05"/><circle cx="525.71" cy="504.52" r="1.05"/><circle cx="525.71" cy="510.00" r="1.05"/><circle cx="525.71" cy="515.48" r="1.05"/><circle cx="525.71" cy="520.96" r="1.05"/><circle cx="531.14" cy="488.08" r="1.05"/><circle cx="531.14" cy="493.56" r="1.05"/><circle cx="531.14" cy="499.04" r="1.05"/><circle cx="531.14" cy="504.52" r="1.05"/><circle cx="531.14" cy="510.00" r="1.05"/><circle cx="531.14" cy="515.48" r="1.05"/><circle cx="531.14" cy="520.96" r="1.05"/><circle cx="536.57" cy="488.08" r="1.05"/><circle cx="536.57" cy="493.56" r="1.05"/><circle cx="536.57" cy="499.04" r="1.05"/><circle cx="536.57" cy="504.52" r="1.05"/><circle cx="536.57" cy="510.00" r="1.05"/><circle cx="536.57" cy="515.48" r="1.05"/><circle cx="536.57" cy="520.96" r="1.05"/><circle cx="479.55" cy="490.82" r="1.05"/><circle cx="479.55" cy="496.30" r="1.05"/><circle cx="479.55" cy="501.78" r="1.05"/><circle cx="479.55" cy="507.26" r="1.05"/><circle cx="479.55" cy="512.74" r="1.05"/><circle cx="479.55" cy="518.22" r="1.05"/><circle cx="479.55" cy="523.70" r="1.05"/><circle cx="484.98" cy="490.82" r="1.05"/><circle cx="484.98" cy="496.30" r="1.05"/><circle cx="484.98" cy="501.78" r="1.05"/><circle cx="484.98" cy="507.26" r="1.05"/><circle cx="484.98" cy="512.74" r="1.05"/><circle cx="484.98" cy="518.22" r="1.05"/><circle cx="484.98" cy="523.70" r="1.05"/><circle cx="490.41" cy="490.82" r="1.05"/><circle cx="490.41" cy="496.30" r="1.05"/><circle cx="490.41" cy="501.78" r="1.05"/><circle cx="490.41" cy="507.26" r="1.05"/><circle cx="490.41" cy="512.74" r="1.05"/><circle cx="490.41" cy="518.22" r="1.05"/><circle cx="490.41" cy="523.70" r="1.05"/><circle cx="495.84" cy="490.82" r="1.05"/><circle cx="495.84" cy="496.30" r="1.05"/><circle cx="495.84" cy="501.78" r="1.05"/><circle cx="495.84" cy="507.26" r="1.05"/><circle cx="495.84" cy="512.74" r="1.05"/><circle cx="495.84" cy="518.22" r="1.05"/><circle cx="495.84" cy="523.70" r="1.05"/><circle cx="501.27" cy="490.82" r="1.05"/><circle cx="501.27" cy="496.30" r="1.05"/><circle cx="501.27" cy="501.78" r="1.05"/><circle cx="501.27" cy="507.26" r="1.05"/><circle cx="501.27" cy="512.74" r="1.05"/><circle cx="501.27" cy="518.22" r="1.05"/><circle cx="501.27" cy="523.70" r="1.05"/><circle cx="506.70" cy="490.82" r="1.05"/><circle cx="506.70" cy="496.30" r="1.05"/><circle cx="506.70" cy="501.78" r="1.05"/><circle cx="506.70" cy="507.26" r="1.05"/><circle cx="506.70" cy="512.74" r="1.05"/><circle cx="506.70" cy="518.22" r="1.05"/><circle cx="506.70" cy="523.70" r="1.05"/><circle cx="512.13" cy="490.82" r="1.05"/><circle cx="512.13" cy="496.30" r="1.05"/><circle cx="512.13" cy="501.78" r="1.05"/><circle cx="512.13" cy="507.26" r="1.05"/><circle cx="512.13" cy="512.74" r="1.05"/><circle cx="512.13" cy="518.22" r="1.05"/><circle cx="512.13" cy="523.70" r="1.05"/><circle cx="517.56" cy="490.82" r="1.05"/><circle cx="517.56" cy="496.30" r="1.05"/><circle cx="517.56" cy="501.78" r="1.05"/><circle cx="517.56" cy="507.26" r="1.05"/><circle cx="517.56" cy="512.74" r="1.05"/><circle cx="517.56" cy="518.22" r="1.05"/><circle cx="517.56" cy="523.70" r="1.05"/><circle cx="522.99" cy="490.82" r="1.05"/><circle cx="522.99" cy="496.30" r="1.05"/><circle cx="522.99" cy="501.78" r="1.05"/><circle cx="522.99" cy="507.26" r="1.05"/><circle cx="522.99" cy="512.74" r="1.05"/><circle cx="522.99" cy="518.22" r="1.05"/><circle cx="522.99" cy="523.70" r="1.05"/><circle cx="528.42" cy="490.82" r="1.05"/><circle cx="528.42" cy="496.30" r="1.05"/><circle cx="528.42" cy="501.78" r="1.05"/><circle cx="528.42" cy="507.26" r="1.05"/><circle cx="528.42" cy="512.74" r="1.05"/><circle cx="528.42" cy="518.22" r="1.05"/><circle cx="528.42" cy="523.70" r="1.05"/><circle cx="533.85" cy="490.82" r="1.05"/><circle cx="533.85" cy="496.30" r="1.05"/><circle cx="533.85" cy="501.78" r="1.05"/><circle cx="533.85" cy="507.26" r="1.05"/><circle cx="533.85" cy="512.74" r="1.05"/><circle cx="533.85" cy="518.22" r="1.05"/><circle cx="533.85" cy="523.70" r="1.05"/></g>
<path d="M479.1,504.5 H493.8 V487.9 H522.1 V504.5 H536.8 V525.1 H479.1 Z" fill="none" stroke="#1874c6" stroke-width="2"/></g>
  <!-- 2.1mm -->
  <path class="ln" d="M313.5,501.5H343.5 M315.5,522.5H343.5"/>
  <path class="ln" d="M327.9,481.3V495.5 M328.8,529.5V543.3"/>
  <path class="ah" d="M327.9,499 l-1.3,-4.5 h2.6z M328.8,525.7 l-1.3,4.5 h2.6z"/>
  <text class="ts" x="299.5" y="516">2.1mm</text>
  <!-- 3mm -->
  <path class="lv" d="M495,455.5V485 M521.2,455.5V485"/>
  <path class="ln" d="M475,466.8H489.5 M530,466.8H542.5"/>
  <path class="ah" d="M493.6,466.8 l-4.8,-1.3 v2.6z M525.6,466.8 l4.8,-1.3 v2.6z"/>
  <text x="494.7" y="473" style="font-size:11.4px;letter-spacing:0.5px">3mm</text>
  <!-- 4.6mm -->
  <path class="ln" d="M523,486.5H565 M540,522.5H568"/>
  <path class="ln" d="M560.5,530.5V543.7"/>
  <path class="ah" d="M560.5,526.7 l-1.3,4.5 h2.6z"/>
  <text class="ts" x="545.8" y="510" style="letter-spacing:1.35px">4.6mm</text>
  <!-- inner dim -->
  <path class="lv" d="M402.2,526.5V554 M480.5,526.5V555"/>
  <path class="ln" d="M409.5,539H419.8 M462.3,539H473.5"/>
  <path class="ah" d="M404.8,539 l4.8,-1.3 v2.6z M478,539 l-4.8,-1.3 v2.6z"/>
  <text class="t" x="416.5" y="533.4">diameter</text>
  <text class="t" x="419.3" y="548.7">41mm</text>
  <!-- outer dim -->
  <path class="lv" d="M345.4,526.5V594.5 M536.5,526.5V594.5"/>
  <path class="ln" d="M354.5,581H405.7 M477,580.6H528"/>
  <path class="ah" d="M350,581 l4.8,-1.3 v2.6z M532.5,580.6 l-4.8,-1.3 v2.6z"/>
  <text class="t" x="416.5" y="578.4">diameter</text>
  <text class="t" x="420" y="594">55.5mm</text>
</g>
</svg>
</body>
</html>
